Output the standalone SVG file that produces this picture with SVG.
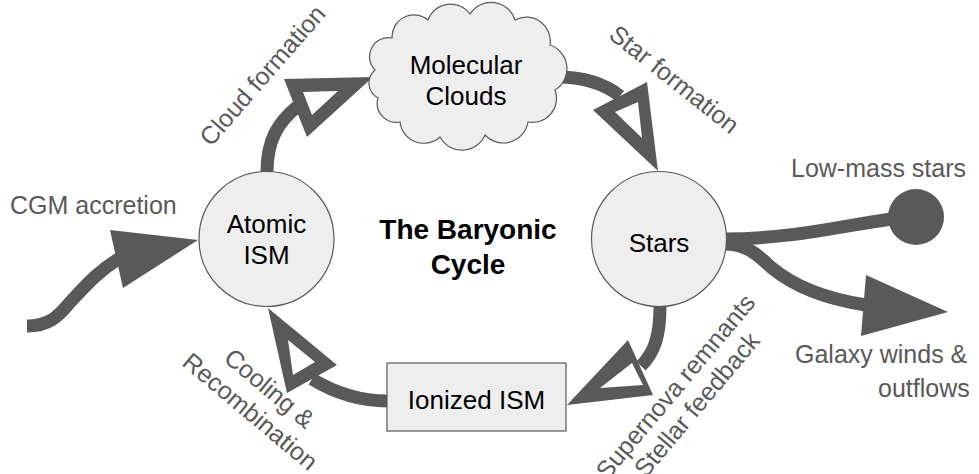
<svg xmlns="http://www.w3.org/2000/svg" width="979" height="474" viewBox="0 0 979 474">
<style>
.node{fill:#eeeeee;stroke:#595959;stroke-width:1.2}
.ntext{font-family:"Liberation Sans",Arial,sans-serif;font-size:26px;fill:#000;text-anchor:middle}
.title{font-family:"Liberation Sans",Arial,sans-serif;font-size:28px;font-weight:bold;fill:#000;text-anchor:middle}
.lbl{font-family:"Liberation Sans",Arial,sans-serif;font-size:25px;fill:#595959}
.line{fill:none;stroke:#595959;stroke-width:13}
.head{fill:#595959}
.hole{fill:#ffffff}
</style>
<rect width="979" height="474" fill="#ffffff"/>
<g id="connectors">
  <!-- CGM accretion -->
  <path class="line" d="M27,326 C55,326 62,310 75,297 C88,283 100,270 120,258"/>
  <polygon class="head" points="198,240 110,230 123,288"/>
  <!-- Cloud formation -->
  <path class="line" d="M267,172 C267,140 278,122 298,106"/>
  <polygon class="head" points="373,77 284,79 307,137"/>
  <polygon class="hole" points="303,92 338,91 312,115"/>
  <!-- Star formation -->
  <path class="line" d="M557,77 C585,77 605,84 620,96"/>
  <polygon class="head" points="658,171 593,110 647,82"/>
  <polygon class="hole" points="615,112 638,102 642,138"/>
  <!-- Supernova / Stellar feedback -->
  <path class="line" d="M660,306 C660,335 655,352 641,366"/>
  <polygon class="head" points="567,405 628,340 653,395"/>
  <polygon class="hole" points="600,388 632,363 643,385"/>
  <!-- Cooling & Recombination -->
  <path class="line" d="M388,401 C360,401 335,393 312,379"/>
  <polygon class="head" points="268,308 337,365 287,393"/>
  <polygon class="hole" points="288,340 315,362 293,375"/>
  <!-- Low-mass stars -->
  <path class="line" d="M724,239 C790,239 840,226 892,219"/>
  <circle class="head" cx="916" cy="217" r="28"/>
  <!-- Galaxy winds -->
  <path class="line" d="M724,244 C750,244 760,258 772,268 C790,283 820,298 866,305"/>
  <polygon class="head" points="948,312 866,275 861,336"/>
</g>
<g id="atomic-ism">
  <circle class="node" cx="266.5" cy="239" r="67.5"/>
  <text class="ntext" x="266.5" y="233">Atomic</text>
  <text class="ntext" x="266.5" y="264">ISM</text>
</g>
<g id="molecular-clouds">
  <path class="node" d="M375,70 A19,19 0 0 1 392,38 A22,22 0 0 1 428,20 A24,24 0 0 1 470,14 A25,25 0 0 1 515,20 A24,24 0 0 1 550,45 A25,25 0 0 1 555,90 A24,24 0 0 1 528,122 A25,25 0 0 1 485,135 A25,25 0 0 1 440,137 A24,24 0 0 1 400,122 A19,19 0 0 1 378,98 A17,17 0 0 1 375,70 Z"/>
  <text class="ntext" x="466" y="74">Molecular</text>
  <text class="ntext" x="466" y="105">Clouds</text>
</g>
<g id="stars">
  <circle class="node" cx="659" cy="239" r="67.5"/>
  <text class="ntext" x="659" y="252">Stars</text>
</g>
<g id="ionized-ism">
  <rect class="node" x="387" y="363" width="179" height="68"/>
  <text class="ntext" x="476.5" y="409">Ionized ISM</text>
</g>
<g id="title">
  <text class="title" x="468" y="239">The Baryonic</text>
  <text class="title" x="468" y="274">Cycle</text>
</g>
<g id="labels">
  <text class="lbl" x="10" y="214">CGM accretion</text>
  <text class="lbl" x="791" y="177">Low-mass stars</text>
  <text class="lbl" x="795" y="363">Galaxy winds &amp;</text>
  <text class="lbl" x="878" y="397">outflows</text>
  <text class="lbl" text-anchor="middle" transform="translate(269,81) rotate(-49)">Cloud formation</text>
  <text class="lbl" text-anchor="middle" transform="translate(669,86) rotate(38.5)">Star formation</text>
  <g transform="translate(682,392) rotate(-50)">
    <text class="lbl" text-anchor="middle" x="0" y="0">Supernova remnants</text>
    <text class="lbl" text-anchor="middle" x="0" y="28">Stellar feedback</text>
  </g>
  <g transform="translate(264,395) rotate(40)">
    <text class="lbl" text-anchor="middle" x="0" y="0">Cooling &amp;</text>
    <text class="lbl" text-anchor="middle" x="0" y="30">Recombination</text>
  </g>
</g>
</svg>
